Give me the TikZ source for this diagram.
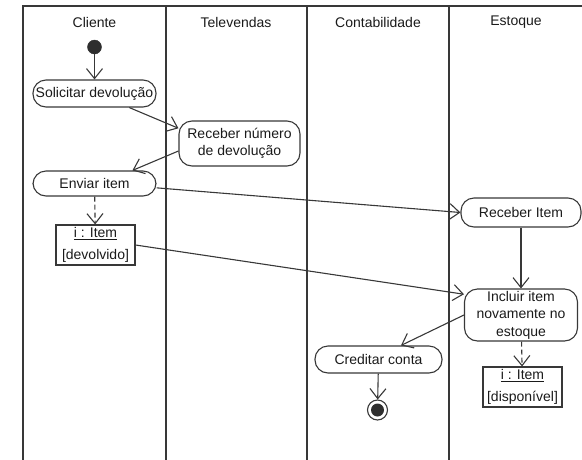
\documentclass[tikz,border=0pt]{standalone}
\usepackage{fontspec}
\setmainfont{Liberation Sans}
\usetikzlibrary{arrows.meta}
\definecolor{linegray}{HTML}{383838}
\definecolor{textgray}{HTML}{1A1A1A}
\definecolor{dotgray}{HTML}{2E2E2E}
\newcommand\diagfont{\fontsize{14pt}{17.5pt}\selectfont}
\begin{document}
\begin{tikzpicture}[x=1pt,y=-1pt,
  ink/.style={draw=linegray, line width=1.1pt},
  action/.style={ink, rounded corners=13pt, align=center, inner sep=0pt,
    text=textgray, font=\diagfont},
  objbox/.style={ink, align=center, inner sep=0pt, text=textgray, font=\diagfont},
  lanehead/.style={text=textgray, font=\diagfont},
  flow/.style={ink, -{Straight Barb[length=10pt,width=16pt]}},
  objflow/.style={flow, dash pattern=on 5pt off 3pt}
]
\useasboundingbox (0,0) rectangle (582,459);
\clip (0,0) rectangle (582,459);

% swimlane frame
\draw[ink] (600,6) -- (23,6) -- (23,470);
\draw[ink] (166,6) -- (166,470);
\draw[ink] (307,6) -- (307,470);
\draw[ink] (449,6) -- (449,470);

% lane titles
\node[lanehead] (hcliente) at (94.5,22) {Cliente};
\node[lanehead] (htele) at (236,22) {Televendas};
\node[lanehead] (hconta) at (378,22) {Contabilidade};
\node[lanehead] (hestoque) at (516,22) {Estoque};

% activities and objects
\node[circle, fill=dotgray, draw=dotgray, minimum size=14pt, inner sep=0pt] (start) at (94.5,47) {};
\node[action, minimum width=123pt, minimum height=27pt] (solicitar) at (94.5,93.5) {Solicitar devolução};
\node[action, minimum width=121pt, minimum height=45pt] (numero) at (239.5,143.5) {Receber número\\de devolução};
\node[action, minimum width=123pt, minimum height=25pt] (enviar) at (94.5,183.5) {Enviar item};
\node[objbox, minimum width=79pt, minimum height=40pt] (devolvido) at (95.5,245) {\underline{i : Item}\\[4pt]{[}devolvido]};
\node[action, minimum width=120pt, minimum height=29pt] (recebitem) at (521,212.5) {Receber Item};
\node[action, minimum width=113pt, minimum height=52pt] (incluir) at (521,315) {Incluir item\\novamente no\\estoque};
\node[action, minimum width=127pt, minimum height=27pt] (creditar) at (378.5,359.5) {Creditar conta};
\node[objbox, minimum width=79pt, minimum height=40pt] (disponivel) at (522.5,387) {\underline{i : Item}\\[4pt]{[}disponível]};
\node[circle, ink, minimum size=20pt, inner sep=0pt] (end) at (377.5,410) {};
\node[circle, fill=dotgray, minimum size=13pt, inner sep=0pt] (endcore) at (end.center) {};

% control and object flows
\draw[flow] (start) -- (solicitar);
\draw[flow] (solicitar.-22.5) -- (numero.166);
\draw[flow] (numero.187) -- (enviar.19);
\draw[objflow] (enviar) -- (devolvido);
\draw[flow] (enviar.-4) -- (recebitem.west);
\draw[flow] (devolvido.east) -- (incluir.160);
\draw[flow] (recebitem) -- (incluir);
\draw[flow] (incluir.west) -- (creditar.32);
\draw[objflow] (incluir) -- (disponivel);
\draw[flow] (creditar) -- (end);
\end{tikzpicture}
\end{document}
